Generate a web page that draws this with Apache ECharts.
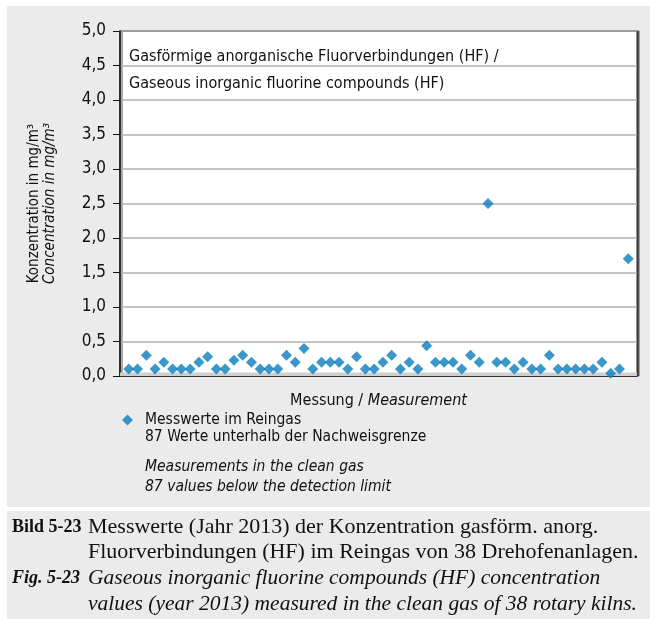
<!DOCTYPE html>
<html>
<head>
<meta charset="utf-8">
<script src="https://cdn.jsdelivr.net/npm/echarts@6/dist/echarts.min.js"></script>
<style>
  html, body { margin: 0; padding: 0; background: #fff; }
  #chart { width: 650px; height: 619px; }
</style>
</head>
<body>
<div id="chart"></div>
<script>
    var narrow = "'Liberation Sans Narrow', 'DejaVu Sans Condensed', 'Roboto Condensed', 'Liberation Sans', sans-serif";
    var serif = "'Liberation Serif', 'DejaVu Serif', serif";

    // Messwerte HF im Reingas (mg/m3), eine Messung pro Punkt
    var measurements = [
        0.1, 0.1, 0.3, 0.1, 0.2, 0.1, 0.1, 0.1, 0.2, 0.28,
        0.1, 0.1, 0.23, 0.3, 0.2, 0.1, 0.1, 0.1, 0.3, 0.2,
        0.4, 0.1, 0.2, 0.2, 0.2, 0.1, 0.28, 0.1, 0.1, 0.2,
        0.3, 0.1, 0.2, 0.1, 0.44, 0.2, 0.2, 0.2, 0.1, 0.3,
        0.2, 2.5, 0.2, 0.2, 0.1, 0.2, 0.1, 0.1, 0.3, 0.1,
        0.1, 0.1, 0.1, 0.1, 0.2, 0.04, 0.1, 1.7
    ];
    var yMin = 0, yMax = 5, yStep = 0.5;

    var titleLines = ['Gasförmige anorganische Fluorverbindungen (HF) /', 'Gaseous inorganic fluorine compounds (HF)'];
    var legendName = 'Messwerte im Reingas';
    var legendNotes = ['87 Werte unterhalb der Nachweisgrenze', '', 'Measurements in the clean gas', '87 values below the detection limit'];

    var chart = echarts.init(document.getElementById('chart'));

    var data = [];
    measurements.forEach(function (v, i) {
        data.push([i + 1, v]);
    });

    function capText(x, y, text, font) {
        return {
            type: 'text', x: x, y: y, z: 100,
            style: { text: text, font: font, fill: '#111', verticalAlign: 'middle' }
        };
    }

    var option = {
        backgroundColor: '#fff',
        animation: false,
        title: {
            text: titleLines.join('\n'),
            left: 124, top: 38,
            textStyle: { fontFamily: narrow, fontSize: 16, fontWeight: 'normal', color: '#111', lineHeight: 27 }
        },
        legend: {
            data: [legendName],
            left: 117, top: 407,
            icon: 'diamond', itemWidth: 11, itemHeight: 11, itemGap: 4,
            textStyle: { fontFamily: narrow, fontSize: 15.5, color: '#111', padding: [0, 0, 0, 7] }
        },
        grid: {
            left: 120, right: 13, top: 31, bottom: 243,
            show: true, backgroundColor: '#fff',
            borderColor: '#222', borderWidth: 1,
            shadowColor: '#555', shadowOffsetX: 2, shadowBlur: 0
        },
        xAxis: {
            type: 'value', min: 0, max: measurements.length + 1,
            name: '{a|Messung / }{b|Measurement}',
            nameLocation: 'middle', nameGap: 17,
            nameTextStyle: {
                rich: {
                    a: { fontFamily: narrow, fontSize: 16, color: '#111' },
                    b: { fontFamily: narrow, fontSize: 16, color: '#111', fontStyle: 'italic' }
                }
            },
            axisLine: { show: true, lineStyle: { color: '#111', width: 1.5 } },
            axisTick: { show: false },
            axisLabel: { show: false },
            splitLine: { show: false }
        },
        yAxis: {
            type: 'value', min: yMin, max: yMax, interval: yStep,
            name: '{a|Konzentration in mg/m³}\n{b|Concentration in mg/m³}',
            nameLocation: 'middle', nameRotate: 90, nameGap: 62,
            nameTextStyle: {
                rich: {
                    a: { fontFamily: narrow, fontSize: 15, color: '#111', lineHeight: 16 },
                    b: { fontFamily: narrow, fontSize: 15, color: '#111', fontStyle: 'italic', lineHeight: 16 }
                }
            },
            axisLine: { show: true, lineStyle: { color: '#111', width: 1.5 } },
            axisTick: { show: true, inside: false, length: 7, lineStyle: { color: '#111' } },
            axisLabel: {
                margin: 14, fontFamily: narrow, fontSize: 17, color: '#111',
                formatter: function (v) { return v.toFixed(1).replace('.', ','); }
            },
            splitLine: { show: true, lineStyle: { color: '#b0b0b0', width: 1.5 } }
        },
        series: [{
            name: legendName,
            type: 'scatter',
            symbol: 'diamond',
            symbolSize: 11,
            itemStyle: { color: '#0a7dbd' },
            data: data,
            markArea: {
                silent: true,
                itemStyle: { color: '#cfcfcf' },
                data: [[{ yAxis: 0 }, { yAxis: 0.05 }]]
            },
            z: 5
        }],
        graphic: [
            { type: 'rect', z: -10, shape: { x: 7, y: 6, width: 643, height: 501 }, style: { fill: '#ebebeb' } },
            { type: 'rect', z: -10, shape: { x: 7, y: 511, width: 643, height: 108 }, style: { fill: '#ebebeb' } },
            capText(145, 437, legendNotes[0], '15.5px ' + narrow),
            capText(145, 467, legendNotes[2], 'italic 15.5px ' + narrow),
            capText(145, 487, legendNotes[3], 'italic 15.5px ' + narrow),
            capText(12, 527, 'Bild 5-23', 'bold 18px ' + serif),
            capText(88, 527, 'Messwerte (Jahr 2013) der Konzentration gasförm. anorg.', '22px ' + serif),
            capText(88, 552, 'Fluorverbindungen (HF) im Reingas von 38 Drehofenanlagen.', '22px ' + serif),
            capText(12, 578, 'Fig. 5-23', 'italic bold 18px ' + serif),
            capText(88, 578, 'Gaseous inorganic fluorine compounds (HF) concentration', 'italic 21.5px ' + serif),
            capText(88, 604, 'values (year 2013) measured in the clean gas of 38 rotary kilns.', 'italic 21.5px ' + serif)
        ]
    };

    chart.setOption(option);
</script>
</body>
</html>
